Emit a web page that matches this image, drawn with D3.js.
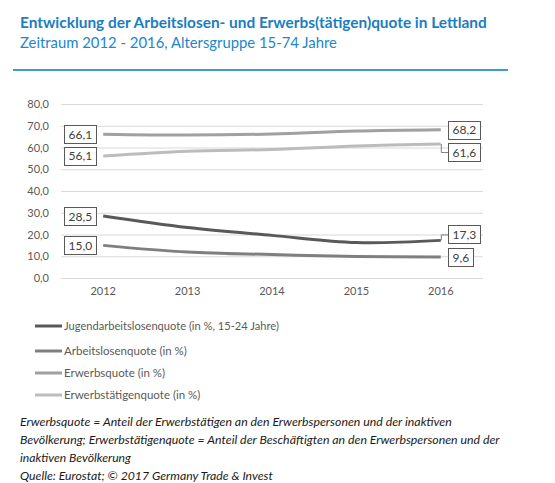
<!DOCTYPE html>
<html><head><meta charset="utf-8">
<script src="https://cdn.jsdelivr.net/npm/d3@7/dist/d3.min.js"></script>
<style>
html,body{margin:0;padding:0;background:#fff;}
svg{display:block;font-family:Lato,"Open Sans",sans-serif;}
</style></head>
<body><svg id="c" width="555" height="483"></svg>
<script>
const years = ["2012","2013","2014","2015","2016"];
const seriesNames = ["Jugendarbeitslosenquote (in %, 15-24 Jahre)","Arbeitslosenquote (in %)","Erwerbsquote (in %)","Erwerbstätigenquote (in %)"];
const jugend = [28.5, 23.2, 19.6, 16.3, 17.3];
const arbeitslos = [15.0, 11.9, 10.8, 9.9, 9.6];
const erwerbsquote = [66.1, 65.7, 66.2, 67.6, 68.2];
const erwerbstaetig = [56.1, 58.3, 59.1, 60.7, 61.6];
const yTicks = [0,10,20,30,40,50,60,70,80];
const colors = ["#595959","#7f7f7f","#a0a0a0","#bcbcbc"];
const series = [jugend, arbeitslos, erwerbsquote, erwerbstaetig];

const svg = d3.select("#c");
const fmt = v => v.toFixed(1).replace(".", ",");
const FONT = "Lato, Open Sans, sans-serif";

function fit(sel, w){
  const node = sel.node();
  let fs = parseFloat(sel.attr("font-size"));
  const len = node.getComputedTextLength();
  if(len>0){ sel.attr("font-size", (fs*w/len).toFixed(2)); }
  return sel;
}

// Title
fit(svg.append("text").attr("x",20).attr("y",28).attr("font-size",15).attr("font-weight","bold")
  .attr("fill","#1a7dc1").text("Entwicklung der Arbeitslosen- und Erwerbs(tätigen)quote in Lettland"), 467);
fit(svg.append("text").attr("x",20).attr("y",48).attr("font-size",15)
  .attr("fill","#2186cb").text("Zeitraum 2012 - 2016, Altersgruppe 15-74 Jahre"), 317);
svg.append("line").attr("x1",13).attr("x2",508).attr("y1",70).attr("y2",70)
  .attr("stroke","#3d9bdb").attr("stroke-width",2);

// Scales
const x = d3.scaleBand().domain(years).range([61,483]);
const y = d3.scaleLinear().domain([0,80]).range([278,104]);

// Grid
svg.append("g").selectAll("line").data(yTicks).join("line")
  .attr("x1",61).attr("x2",483).attr("y1",d=>y(d)+0.5).attr("y2",d=>y(d)+0.5)
  .attr("stroke","#d9d9d9").attr("stroke-width",1);

// Y axis labels
const yAxis = d3.axisLeft(y).tickValues(yTicks).tickFormat(fmt).tickSize(0).tickPadding(0);
const ya = svg.append("g").attr("transform","translate(49,0)").call(yAxis);
ya.select(".domain").remove();
ya.selectAll("text").attr("font-size",11).attr("fill","#595959").attr("font-family",FONT);

// X axis labels
const xAxis = d3.axisBottom(x).tickSize(0).tickPadding(0);
const xa = svg.append("g").attr("transform","translate(0,287)").call(xAxis);
xa.select(".domain").remove();
xa.selectAll("text").attr("font-size",11).attr("fill","#595959").attr("font-family",FONT);

// Lines
const cx = d => x(d) + x.bandwidth()/2;
const line = d3.line().x((d,i)=>cx(years[i])).y(d=>y(d)).curve(d3.curveCatmullRom.alpha(0.5));
[3,2,1,0].forEach(k=>{
  svg.append("path").attr("d",line(series[k])).attr("fill","none")
    .attr("stroke",colors[k]).attr("stroke-width",3).attr("stroke-linecap","butt");
});

// Data labels
function label(val, xc, yc, anchorLeft){
  const g = svg.append("g");
  const t = g.append("text").attr("font-size",12).attr("fill","#404040")
    .attr("y",yc+4.5).text(fmt(val));
  const w = t.node().getComputedTextLength();
  const bw = Math.round(w+8);
  const bx = anchorLeft ? xc - bw : xc;
  t.attr("x", bx+4.5);
  g.insert("rect","text").attr("x",bx+0.5).attr("y",Math.round(yc-9)+0.5).attr("width",bw).attr("height",18)
    .attr("fill","#fff").attr("stroke","#595959").attr("stroke-width",1);
}
const x4 = cx(years[4]);
const leftEdge = 96, rightEdge = 448;
const rightOffsets = [-6, 0, 0, 8];
series.forEach((s,k)=>{
  label(s[0], leftEdge, y(s[0]), true);
  const yr = y(s[4]) + rightOffsets[k];
  if(rightOffsets[k]!==0){
    svg.append("path").attr("d",`M${x4+0.5},${y(s[4])}V${yr+0.5}H${rightEdge}`)
      .attr("fill","none").attr("stroke","#808080").attr("stroke-width",1);
  }
  label(s[4], rightEdge, yr, false);
});

// Legend
const legY = [326,351,373,395];
seriesNames.forEach((n,k)=>{
  svg.append("line").attr("x1",35).attr("x2",62).attr("y1",legY[k]).attr("y2",legY[k])
    .attr("stroke",colors[k]).attr("stroke-width",3);
  const t = svg.append("text").attr("x",64).attr("y",legY[k]+4).attr("font-size",11.5)
    .attr("fill","#595959").text(n);
  if(k===0) fit(t,215);
});

// Footnote
const notes = [
  ["Erwerbsquote = Anteil der Erwerbstätigen an den Erwerbspersonen und der inaktiven",432],
  ["Bevölkerung; Erwerbstätigenquote = Anteil der Beschäftigten an den Erwerbspersonen und der",480],
  ["inaktiven Bevölkerung",111],
  ["Quelle: Eurostat; © 2017 Germany Trade & Invest",253]
];
const noteY = [426,444,462,480];
notes.forEach((n,i)=>{
  const t = svg.append("text").attr("x",20).attr("y",noteY[i]).attr("font-size",12)
    .attr("font-style","italic").attr("fill","#1a1a1a").text(n[0]);
  fit(t,n[1]);
});
</script></body></html>
